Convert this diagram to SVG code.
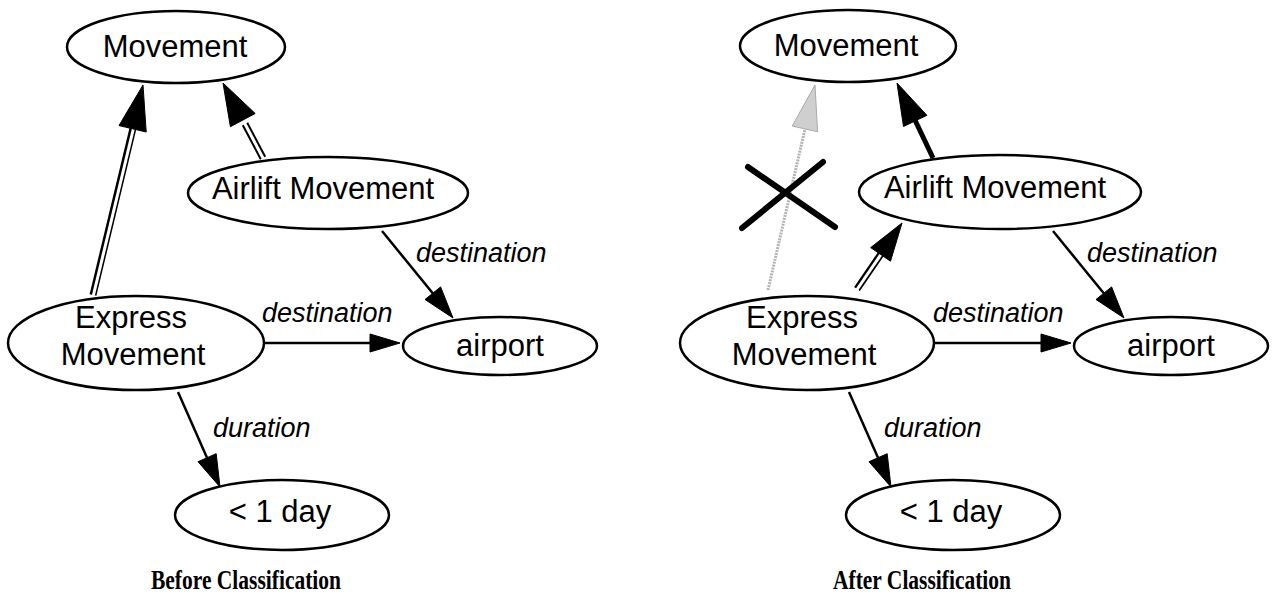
<svg xmlns="http://www.w3.org/2000/svg" width="1275" height="597" viewBox="0 0 1275 597">
<style>
.node ellipse{fill:#fff;stroke:#000;stroke-width:2.5}
.lbl{font-family:"Liberation Sans",Arial,sans-serif;font-size:31px;fill:#000;text-anchor:middle}
.rel{font-family:"Liberation Sans",Arial,sans-serif;font-size:27px;font-style:italic;fill:#000}
.cap{font-family:"Liberation Serif","Times New Roman",serif;font-size:27px;font-weight:bold;fill:#000;text-anchor:middle}
.line{stroke:#000;stroke-width:2.5;fill:none}
.thick{stroke:#000;stroke-width:5;fill:none}
.dblo{stroke:#000;stroke-width:7;fill:none}
.dbli{stroke:#fff;stroke-width:3;fill:none}
.head{fill:#000;stroke:#000;stroke-width:1;stroke-linejoin:miter}
.ghost{stroke:#b4b4b4;stroke-width:3;fill:none;stroke-dasharray:2 1}
.ghosthead{fill:#cfcfcf;stroke:#aaa;stroke-width:1}
.cross{stroke:#000;stroke-width:6;stroke-linecap:round}
</style>
<rect width="1275" height="597" fill="#fff"/>
<g id="connectors">
  <!-- left panel -->
  <line class="dblo" x1="93" y1="295" x2="134" y2="124"/>
  <line class="dbli" x1="93" y1="297" x2="135" y2="122"/>
  <polygon class="head" points="143,85 146.2,132 119,125.6"/>
  <line class="dblo" x1="263" y1="158" x2="245" y2="124"/>
  <line class="dbli" x1="264" y1="160" x2="244" y2="122"/>
  <polygon class="head" points="223,83 255.2,113.5 230.4,126.7"/>
  <line class="line" x1="382" y1="231" x2="435" y2="296"/>
  <polygon class="head" points="453,318 425,299.5 440.6,286.9"/>
  <line class="line" x1="263" y1="343" x2="372" y2="343"/>
  <polygon class="head" points="400,343 370,334 370,352"/>
  <line class="line" x1="178" y1="392" x2="208" y2="460"/>
  <polygon class="head" points="220,487 198,461.7 216.2,453.7"/>
  <!-- right panel -->
  <line class="ghost" x1="768" y1="290" x2="805" y2="129"/>
  <polygon class="ghosthead" points="815,85 817.6,131.8 792.2,126"/>
  <line class="cross" x1="742" y1="228" x2="823" y2="162"/>
  <line class="cross" x1="748" y1="167" x2="835" y2="227"/>
  <line class="thick" x1="933" y1="158" x2="914" y2="118"/>
  <polygon class="head" points="897,83 926.9,115.3 903.5,126.5"/>
  <line class="dblo" x1="857" y1="289" x2="883" y2="251"/>
  <line class="dbli" x1="856" y1="291" x2="884" y2="250"/>
  <polygon class="head" points="902,223 890.5,261.2 870.7,247.6"/>
  <line class="line" x1="1053" y1="231" x2="1106" y2="296"/>
  <polygon class="head" points="1124,318 1096,299.5 1111.6,286.9"/>
  <line class="line" x1="934" y1="343" x2="1043" y2="343"/>
  <polygon class="head" points="1071,343 1041,334 1041,352"/>
  <line class="line" x1="849" y1="392" x2="879" y2="460"/>
  <polygon class="head" points="891,487 869,461.7 887.2,453.7"/>
  <!-- relation labels -->
  <text class="rel" x="416" y="262">destination</text>
  <text class="rel" x="262" y="322">destination</text>
  <text class="rel" x="213" y="437">duration</text>
  <text class="rel" x="1087" y="262">destination</text>
  <text class="rel" x="933" y="322">destination</text>
  <text class="rel" x="884" y="437">duration</text>
</g>
<g id="movement-before" class="node">
  <ellipse cx="176" cy="47" rx="109" ry="36"/>
  <text class="lbl" x="175" y="57">Movement</text>
</g>
<g id="airlift-before" class="node">
  <ellipse cx="328" cy="193" rx="140" ry="36"/>
  <text class="lbl" x="323" y="199">Airlift Movement</text>
</g>
<g id="express-before" class="node">
  <ellipse cx="136" cy="343" rx="128" ry="47"/>
  <text class="lbl" x="131" y="328">Express</text>
  <text class="lbl" x="133" y="365">Movement</text>
</g>
<g id="airport-before" class="node">
  <ellipse cx="500" cy="346" rx="97" ry="29"/>
  <text class="lbl" x="500" y="356">airport</text>
</g>
<g id="day-before" class="node">
  <ellipse cx="282" cy="515" rx="107" ry="35"/>
  <text class="lbl" x="280" y="522">&lt; 1 day</text>
</g>
<g id="movement-after" class="node">
  <ellipse cx="848" cy="46" rx="108" ry="36"/>
  <text class="lbl" x="846" y="56">Movement</text>
</g>
<g id="airlift-after" class="node">
  <ellipse cx="1000" cy="192" rx="141" ry="37"/>
  <text class="lbl" x="995" y="198">Airlift Movement</text>
</g>
<g id="express-after" class="node">
  <ellipse cx="807" cy="343" rx="127" ry="47"/>
  <text class="lbl" x="802" y="328">Express</text>
  <text class="lbl" x="804" y="365">Movement</text>
</g>
<g id="airport-after" class="node">
  <ellipse cx="1171" cy="346" rx="97" ry="29"/>
  <text class="lbl" x="1171" y="356">airport</text>
</g>
<g id="day-after" class="node">
  <ellipse cx="953" cy="515" rx="107" ry="35"/>
  <text class="lbl" x="951" y="522">&lt; 1 day</text>
</g>
<g id="captions">
  <text class="cap" x="246" y="589" textLength="190" lengthAdjust="spacingAndGlyphs">Before Classification</text>
  <text class="cap" x="922" y="589" textLength="178" lengthAdjust="spacingAndGlyphs">After Classification</text>
</g>
</svg>
